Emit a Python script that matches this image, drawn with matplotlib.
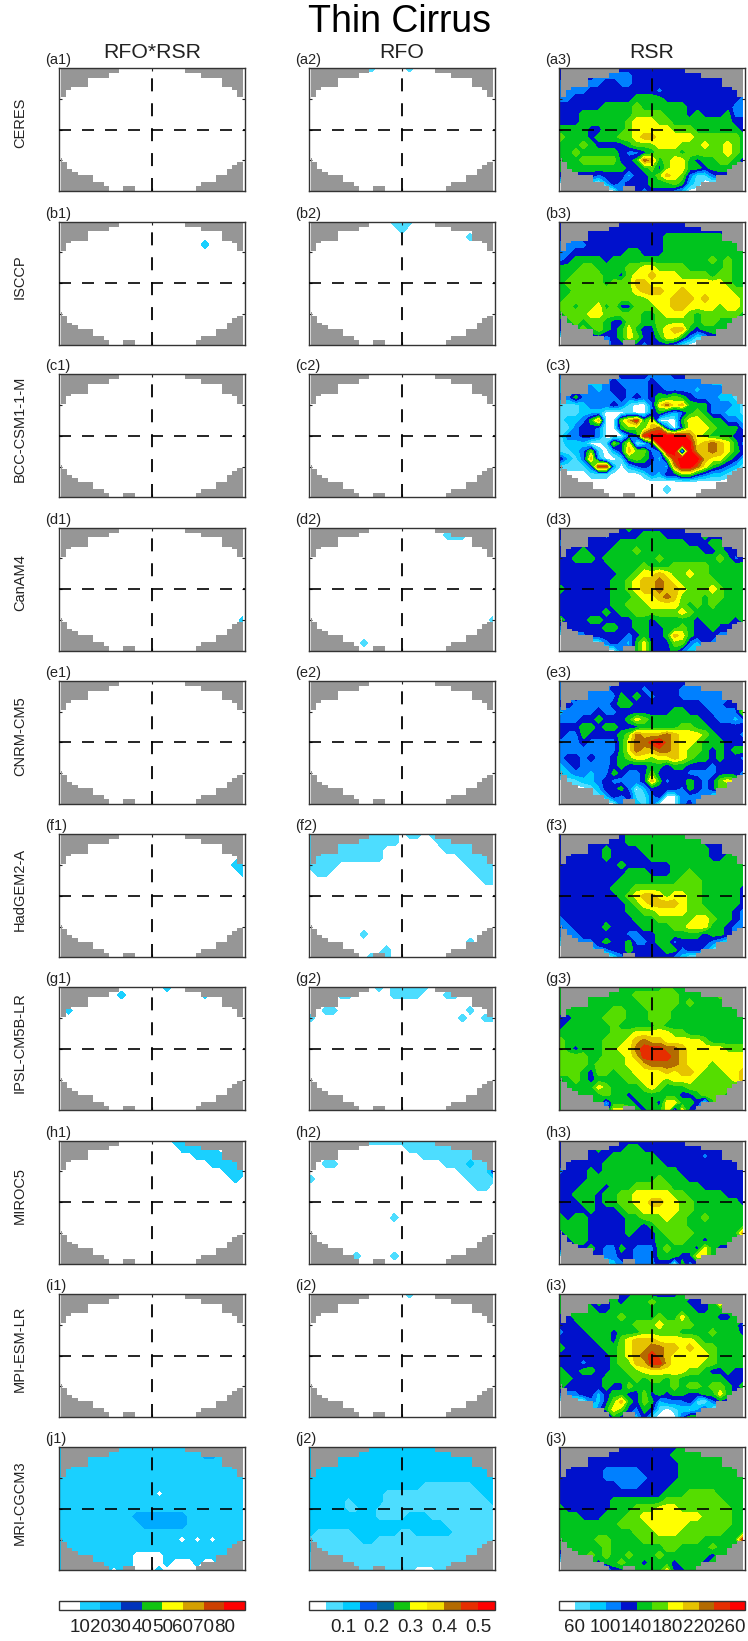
import matplotlib
matplotlib.use("Agg")
import matplotlib.pyplot as plt
import matplotlib.colors as mcolors
import matplotlib.colorbar as mcolorbar
import numpy as np

plt.rcParams['font.family'] = ['Liberation Sans', 'DejaVu Sans']

models = ["CERES", "ISCCP", "BCC-CSM1-1-M", "CanAM4", "CNRM-CM5", "HadGEM2-A",
          "IPSL-CM5B-LR", "MIROC5", "MPI-ESM-LR", "MRI-CGCM3"]
letters = "abcdefghij"
headers = ["RFO*RSR", "RFO", "RSR"]

# colour classes and their boundaries, one set per column
prod_levels = [10, 20, 30, 40, 50, 60, 70, 80]
prod_colors = ["#ffffff", "#1ad0ff", "#00aaff", "#0033bb", "#11c411", "#ffff00", "#d4a000", "#cc4000", "#ff0000"]
prod_ticks = [10, 20, 30, 40, 50, 60, 70, 80]
prod_ticklabels = ["10", "20", "30", "40", "50", "60", "70", "80"]

rfo_levels = [0.05, 0.1, 0.15, 0.2, 0.25, 0.3, 0.35, 0.4, 0.45, 0.5]
rfo_colors = ["#ffffff", "#4dddff", "#00ccff", "#0055ee", "#006699", "#11c411", "#ffff00", "#f5e000", "#b36b00", "#e62e00", "#ff0000"]
rfo_ticks = [0.1, 0.2, 0.3, 0.4, 0.5]
rfo_ticklabels = ["0.1", "0.2", "0.3", "0.4", "0.5"]

rsr_levels = [60, 80, 100, 120, 140, 160, 180, 200, 220, 240, 260]
rsr_colors = ["#ffffff", "#4dddff", "#00ccff", "#0080ff", "#0011cc", "#00c41e", "#55dd00", "#ffff00", "#e6c300", "#b36b00", "#e62e00", "#ff0000"]
rsr_ticks = [60, 100, 140, 180, 220, 260]
rsr_ticklabels = ["60", "100", "140", "180", "220", "260"]

# missing-data stairs in the corners: band edges (y) and how far grey reaches (x)
top_y = [60, 55.1, 50.6, 41.1, 38.9, 31.4]
top_left_x = [-21.4, -27.9, -41.3, -52.0, -55.3]
top_right_x = [21.2, 31.6, 45.1, 51.4, 55.0]
bot_left_y = [-28.1, -32.0, -38.5, -41.1, -44.7, -51.5, -55.4, -60]
bot_left_x = [-57.8, -54.6, -51.4, -47.7, -38.2, -31.1, -27.9]
bot_right_y = [-31.7, -34.3, -38.5, -44.7, -51.5, -55.4, -60]
bot_right_x = [55.0, 51.4, 48.4, 41.3, 31.6, 28.5]
patch_x = [-18.6, -11.1]
patch_y = [-55.4, -60]

# each map: 17 rows (north first) of 25 cells, one hex digit = colour class
blank = ["0000000000000000000000000"] * 17

def sparse(**rows):
    out = list(blank)
    for key, val in rows.items():
        out[int(key[1:])] = val
    return out

prod_b = sparse(r3="0000000000000000000100000")
prod_d = sparse(r1="0000000000000000000000001", r12="0000000000000000000000001", r13="0000000000000000000000001")
prod_f = sparse(r3="0000000000000000000000001", r4="0000000000000000000000011", r5="0000000000000000000000001")
prod_g = sparse(r0="0000000000000010000000000", r1="0000000010000000000100000", r3="0100000000000000000000000")
prod_h = sparse(r0="0000000000000001110000000", r1="0000000000000000111110000",
                r2="0000000000000000001111100", r3="0000000000000000000011110",
                r4="0000000000000000000000111", r5="0000000000000000000000010")
prod_j = ["1111111111111111111111111", "1111111111111111111221111", "1111111111111111111111111",
          "1111111111111111111111111", "1111111111111111111111111", "1111111111111111111111111",
          "1111111111111011111111111", "1111111111111111111111111", "1111111111111111111111111",
          "1111111111222222211111111", "1111111111122222211111111", "1111111111111111111111111",
          "1111111111111111010101111", "1111111111111111111111111", "1111111111000011111111111",
          "1111111111000010001001111", "1111111011000100000111111"]

rfo_a = sparse(r0="0000000110000100000000000")
rfo_b = sparse(r0="0000001100011100000000000", r1="0000000000001000000000000", r2="0000000000000000000001000")
rfo_d = sparse(r0="0000000100000000000100000", r1="0000000000000000001110000", r3="0000000000000000000000001",
               r12="0000000000000000000000001", r15="0000000100000000000000000")
rfo_f = ["1111111111110110111111111", "1111111111110000011111111", "1111111111000000001111111",
         "1111111111000000000011111", "1111000000000000000001111", "0110000000000000000000111",
         "0000000000000000000000011", "0000000000000000000000000", "0000000000000000000000000",
         "0000000000000000000000000", "0000000000000000000000000", "0000000000000000000000000",
         "0000000000000000000000000", "0000000100000000000000000", "0000000000000000000001000",
         "0000000000100000000000000", "0000000011100000000000000"]
rfo_g = sparse(r0="0000000001011111000000000", r1="0000110000011110001100000", r3="0011000000000000000001000",
               r4="1000000000000000000010011")
rfo_h = ["0000001111111111111111111", "0000000000000111111111111", "0000000000000001111111111",
         "0011000000000000001112111", "0000000000000000000011113", "1000000000000000000001111",
         "0000000000000000000000110", "0000000000000000000000000", "0000000000000000000000000",
         "0000000000000000000000000", "0000000000010000000000000", "0000000000000000000000000",
         "0000000000000000000000000", "0000000000000000000000000", "0000000000000000000000000",
         "0000001000010000000000000", "0000000000000000000000000"]
rfo_i = sparse(r0="0000000000000100000000000", r15="0000000000000000000000100")
rfo_j = ["2222222222222222222222222", "2222222222222222222222222", "2222222222222222222222222",
         "2222222222222222222222222", "2222222222222222222222222", "2222222222222221111111222",
         "2222222222111111111111122", "2222212222111111111111112", "2222211221111111111111111",
         "2222222221111222111111111", "2222222222222222221111111", "2111112222221122222111111",
         "1111111221111111111111111", "2111111111111111111111111", "1111111111111111111111111",
         "1111111111111111111111111", "1111111111111100011111111"]

rsr_a = ["4444444444444444444444444", "4444433333444444444444444", "3333334433444444444444444",
         "3333444444444344444444444", "3344444444555544444444443", "4444445555655555544444433",
         "4445555555666655545444533", "4445555556777665555555544", "5555445556777776665555554",
         "6555455566788777776666665", "5556544445666777666766765", "5565555543345666566666765",
         "5556666644598567754556654", "5555555554456467755455555", "4444434442445687631134444",
         "0000102434445556521000000", "0000000034434443200000000"]
rsr_b = ["4444444444444444444444444", "4444444444444444444444444", "4444444444444455555555444",
         "3333444444444455555555555", "3344444445544455555555555", "3455554555555555555565655",
         "5556655556677666655555655", "5566665546778777666656655", "5666665666887777777777655",
         "5566666666788877877777766", "5666666666667778887877776", "6656675644666778877776776",
         "5666776666655677765666665", "4565665446655666665665555", "4456565457544678854555555",
         "0000443457644577531244000", "0000032445434443100000000"]
rsr_c = ["3333333344443334444333333", "2222223433334333333322222", "2233323443334433332333222",
         "3353333343434556543332211", "1112333431003797855533321", "1112220001003532356533221",
         "1223580068a57000577655332", "1134430056668930477765553", "13344300034abbbbb97655544",
         "1222001647014bbbbb7898753", "11236102486633bb0b8898754", "421382001565425abbb877542",
         "11113aa202343328bb9754321", "0000111000013244664322100", "0000000000000000000000000",
         "0000000000000010000000000", "0000000000000000000000000"]
rsr_d = ["4444444445444444445444444", "4444443444455544444544444", "3344444455555555544455444",
         "4445444555655555555445444", "4455545555555655555556534", "4444444555565556666655555",
         "4444444455677876676655555", "4444444556788987666665555", "5444444556788988766676555",
         "4444444555677898666566555", "4444444556667777656565555", "4444445455666666765555555",
         "5444554444554555554555545", "3444445544554455654454433", "0333444443454458754443300",
         "0000003432574446632432000", "0000000033574445321200000"]
rsr_e = ["3333333344444444444433333", "3333333444434444333333333", "3343333354543444333333344",
         "4433333455444444444333444", "2333343344444445544433336", "3334454445765555555443323",
         "4445545544455555665544444", "4335444456988898777654443", "333433335799ab98776555444",
         "3333333357988998766545455", "3443433456776778765545443", "2343333454445545544434444",
         "2233233543346444433334443", "0112234333348534454346761", "0000124453024444354346530",
         "0000012434113400333310000", "0000000033213000342000000"]
rsr_f = ["4444444445555555555544444", "4444444445555555555444444", "4444445444455555555544444",
         "4444445444445555555544555", "4444444454444445555555555", "4444444445554445565555555",
         "4444444455555555666555555", "4444444555666666666555554", "4444444456788767766555554",
         "4444444445678888766555554", "4444444445566777766655543", "3444444444555666667765543",
         "3344445444455556677755433", "3334444443344555555455430", "1233345445334553444432100",
         "0000133445444455344310000", "0000000134444443200000000"]
rsr_g = ["5555555555555565555555555", "5555555555666666555556555", "5555555555566666565555555",
         "5555555665556665555555555", "4455556665556665555555555", "4555555655555655555555555",
         "5555555666777776655555555", "6555556667898877777655555", "65455566779aaa99877777666",
         "66665566678aaaa9877777777", "6666566667789999877767777", "6665466566777787887666778",
         "5565455556677767776666678", "5555576555567655566666655", "5555556554555555445666555",
         "5555552555455477554058555", "5555553776545572743555555"]
rsr_h = ["4444444444444444444444444", "4444454445544444444444444", "4444444555555444444344444",
         "4444445555555544444444444", "3444545555555555444444444", "4444555555555655544444444",
         "4445554555666665555444444", "4455545566777776655555444", "4445545566778877665555554",
         "4444544456677777665555555", "5455444445566676655655555", "5555444445545666655555555",
         "4555444445444566665555558", "4455444444444556655455555", "4444543354333565554754444",
         "0000443344333555447754000", "0000000234333440534400000"]
rsr_i = ["5555555544554444555555555", "5555454545556555544458555", "5555544555555555554455555",
         "4455555565555655755554455", "4445555555666766665555553", "3444555455566666555565554",
         "4444455467888777776555555", "5444445567889988787665555", "444444456789a987777765555",
         "444344456688aa87777665555", "5445544556677777766544544", "5544445555656656555555444",
         "5444445446555556566566545", "3334424554464545544557543", "0000324685465233341034400",
         "0000035764354101212400000", "0000000543241000355000000"]
rsr_j = ["4444444444444444555555555", "4444444444444445555555555", "4444444444444444555555555",
         "4444443333344444555555555", "4444443333334444555555555", "4444444433344445555555555",
         "4444444444444455566665555", "4444444555555566666666555", "5444444555666777666666655",
         "5554445556677777777666655", "5555555566667777766666655", "5555555555666777666666555",
         "555556655556666666655555a", "5555556555555566555565545", "3455656556555655555545555",
         "0055545565545554555455000", "0000000445555574455000000"]

prod_maps = [blank, prod_b, blank, prod_d, blank, prod_f, prod_g, prod_h, blank, prod_j]
rfo_maps = [rfo_a, rfo_b, blank, rfo_d, blank, rfo_f, rfo_g, rfo_h, rfo_i, rfo_j]
rsr_maps = [rsr_a, rsr_b, rsr_c, rsr_d, rsr_e, rsr_f, rsr_g, rsr_h, rsr_i, rsr_j]

W, H = 748.0, 1641.0
col_left = [59, 309, 559]
row_top = [68, 221.7, 374.3, 527.7, 681, 834.3, 987.3, 1140.7, 1294, 1447.3]
panel_w, panel_h = 186, 123
cbar_top, cbar_h = 1601, 8.5

columns = [
    (prod_maps, prod_levels, prod_colors, prod_ticks, prod_ticklabels),
    (rfo_maps, rfo_levels, rfo_colors, rfo_ticks, rfo_ticklabels),
    (rsr_maps, rsr_levels, rsr_colors, rsr_ticks, rsr_ticklabels),
]

lon = np.linspace(-58.9, 58.7, 25)
lat = np.linspace(60, -60, 17)


def make_axes(fig, left, top, w, h):
    return fig.add_axes([left / W, 1 - (top + h) / H, w / W, h / H])


def decode(rows, levels):
    step = levels[1] - levels[0]
    low = levels[0] - step / 2
    return np.array([[low + step * int(c, 16) for c in row.ljust(25, '0')[:25]] for row in rows])


def draw_mask(ax):
    grey = "#969696"
    for i in range(len(top_left_x)):
        ax.fill_betweenx(top_y[i:i + 2], -58.9, top_left_x[i], color=grey, lw=0, zorder=2)
        ax.fill_betweenx(top_y[i:i + 2], top_right_x[i], 58.7, color=grey, lw=0, zorder=2)
    for i in range(len(bot_left_x)):
        ax.fill_betweenx(bot_left_y[i:i + 2], -58.9, bot_left_x[i], color=grey, lw=0, zorder=2)
    for i in range(len(bot_right_x)):
        ax.fill_betweenx(bot_right_y[i:i + 2], bot_right_x[i], 58.7, color=grey, lw=0, zorder=2)
    ax.fill_betweenx(patch_y, patch_x[0], patch_x[1], color=grey, lw=0, zorder=2)


fig = plt.figure(figsize=(W / 100, H / 100), dpi=100)

for c, (maps, levels, colors, ticks, ticklabels) in enumerate(columns):
    for r, rows in enumerate(maps):
        ax = make_axes(fig, col_left[c], row_top[r], panel_w, panel_h)
        ax.contourf(lon, lat, decode(rows, levels), levels=levels, colors=colors, extend='both', zorder=1)
        draw_mask(ax)
        ax.axhline(0, color='k', lw=1.2, dashes=(7.2, 6.6), zorder=3)
        ax.axvline(0, color='k', lw=1.3, dashes=(7.2, 6.6), zorder=3)
        ax.set_xlim(-60, 60)
        ax.set_ylim(-60, 60)
        ax.set_xticks([-30, 0, 30])
        ax.set_yticks([-30, 0, 30])
        ax.tick_params(direction='in', top=True, right=True, length=2, width=0.8, color='#222222',
                       labelbottom=False, labelleft=False)
        for sp in ax.spines.values():
            sp.set_linewidth(1.0)
            sp.set_color('#333333')
        fig.text((col_left[c] - 14) / W, 1 - (row_top[r] - 8) / H, "(%s%d)" % (letters[r], c + 1),
                 fontsize=10.5, ha='left', va='center', color='#222222')

    fig.text((col_left[c] + panel_w / 2) / W, 1 - 52 / H, headers[c], fontsize=15.3, ha='center', va='center', color='#222222')

    # colour bar under the column
    cax = make_axes(fig, col_left[c], cbar_top, panel_w, cbar_h)
    step = levels[1] - levels[0]
    bounds = [levels[0] - step] + list(levels) + [levels[-1] + step]
    cb = mcolorbar.ColorbarBase(cax, cmap=mcolors.ListedColormap(colors),
                                norm=mcolors.BoundaryNorm(bounds, len(colors)),
                                orientation='horizontal', spacing='uniform')
    cb.set_ticks(ticks)
    cb.set_ticklabels(ticklabels)
    cb.minorticks_off()
    cax.tick_params(length=0, pad=7, labelsize=13.5, labelcolor='#222222')
    cb.outline.set_linewidth(1.0)
    cb.outline.set_edgecolor('#333333')

for r, name in enumerate(models):
    fig.text(20 / W, 1 - (row_top[r] + 55) / H, name, fontsize=10.5, rotation=90, ha='center', va='center', color='#222222')

fig.text(400 / W, 1 - 22 / H, "Thin Cirrus", fontsize=27, ha='center', va='center', color='k')

fig.savefig("out.png", dpi=100)
